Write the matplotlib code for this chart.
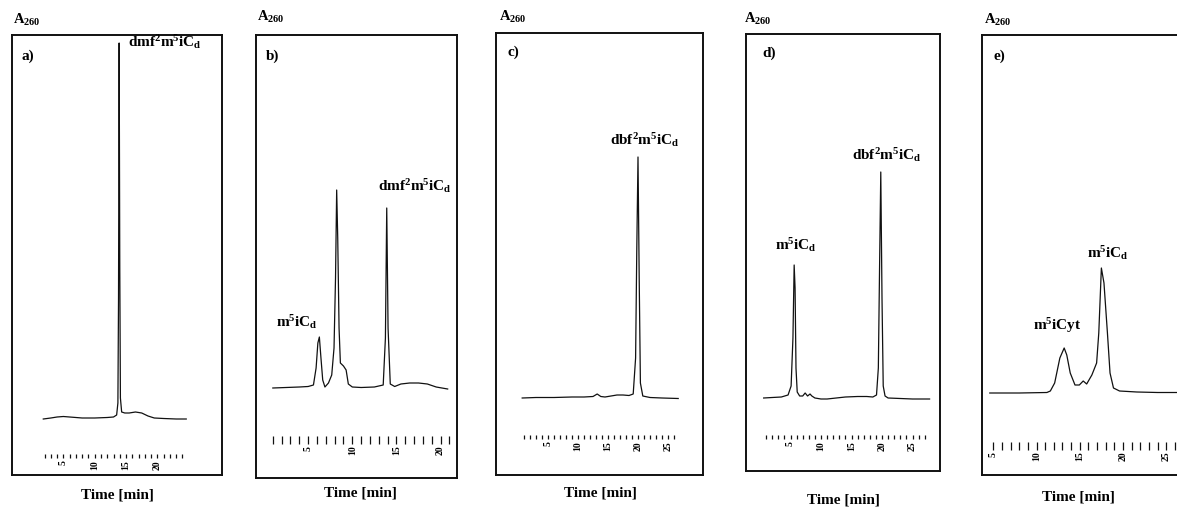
import matplotlib
matplotlib.use("Agg")
import matplotlib.pyplot as plt
from matplotlib.ticker import FixedLocator, NullFormatter

# ---------------- data (retention time in min, absorbance A260 in arbitrary units) ----------------
time_a = [1.8, 3.0, 4.0, 5.0, 6.0, 7.0, 8.0, 10.0, 12.0, 13.0, 13.5, 13.7, 13.8, 13.9, 14.0, 14.1,
          14.3, 14.8, 15.5, 16.5, 17.5, 18.5, 19.5, 21.0, 23.0, 24.6]
abs_a = [-1, 0, 1, 1.5, 1, 0.5, 0, 0, 0.5, 1, 3, 15, 120, 375, 150, 20,
         6, 5, 5, 6, 5, 2, 0, -0.5, -1, -1]

time_b = [1.0, 2.5, 4.0, 5.0, 5.6, 5.9, 6.1, 6.27, 6.45, 6.65, 6.9, 7.3, 7.67, 7.93, 8.1, 8.23,
          8.35, 8.5, 8.65, 9.0, 9.3, 9.55, 10.0, 11.0, 12.5, 13.5, 13.75, 13.9, 14.05, 14.3, 14.8,
          15.5, 16.5, 17.5, 18.5, 19.5, 20.8]
abs_b = [0, 0.5, 1, 1.5, 3, 20, 45, 51, 30, 8, 1, 5, 13, 40, 110, 198,
         150, 60, 25, 22, 18, 4, 1, 0.5, 1, 3, 50, 180, 60, 4, 1.5,
         4, 5, 5, 4, 1, -1]

time_c = [0.7, 3.0, 6.0, 9.0, 11.0, 12.5, 13.2, 13.8, 14.5, 15.5, 16.5, 17.5, 18.5, 19.2, 19.6,
          19.8, 20.0, 20.2, 20.4, 20.8, 22.0, 24.0, 26.7]
abs_c = [0, 0.5, 0.5, 1, 1, 1.5, 4, 1.5, 1, 2, 3, 3, 2.5, 4, 40,
         150, 241, 120, 15, 2, 0.5, 0, -0.5]

time_d = [0.6, 2.0, 3.5, 4.6, 5.1, 5.4, 5.6, 5.75, 5.9, 6.1, 6.5, 7.0, 7.4, 7.8, 8.2, 8.5, 9.0,
          10.0, 11.0, 12.5, 14.0, 16.0, 17.5, 18.5, 19.1, 19.4, 19.6, 19.8, 20.0, 20.2, 20.5,
          21.0, 23.0, 25.0, 27.8]
abs_d = [0, 0.5, 1, 3, 12, 60, 133, 110, 30, 6, 2, 2, 5, 2, 4, 2, 0,
         -1, -1, 0, 1, 1.5, 1.5, 1, 3, 30, 130, 226, 100, 12, 2,
         0, -0.5, -1, -1]

time_e = [4.6, 8.0, 11.2, 11.6, 12.1, 12.7, 13.2, 13.5, 13.9, 14.45, 14.95, 15.4, 15.8, 16.4,
          16.95, 17.2, 17.5, 17.8, 18.2, 18.5, 18.9, 19.6, 21.6, 24.0, 28.0]
abs_e = [0, 0, 0.5, 2, 10, 35, 45, 38, 20, 8, 8, 12, 9, 18,
         30, 60, 125, 110, 60, 20, 5, 2, 1, 0.5, 0.5]

ticks_a = [5, 10, 15, 20]
ticks_b = [5, 10, 15, 20]
ticks_c = [5, 10, 15, 20, 25]
ticks_d = [5, 10, 15, 20, 25]
ticks_e = [5, 10, 15, 20, 25]

minor_a = list(range(2, 25))
minor_b = list(range(1, 22))
minor_c = list(range(1, 27))
minor_d = list(range(1, 28))
minor_e = list(range(5, 28))

letters = ["a)", "b)", "c)", "d)", "e)"]
peak_labels = [
    [r"$\mathrm{dmf}^2\mathrm{m}^5\mathrm{iC}_\mathrm{d}$"],
    [r"$\mathrm{m}^5\mathrm{iC}_\mathrm{d}$", r"$\mathrm{dmf}^2\mathrm{m}^5\mathrm{iC}_\mathrm{d}$"],
    [r"$\mathrm{dbf}^2\mathrm{m}^5\mathrm{iC}_\mathrm{d}$"],
    [r"$\mathrm{m}^5\mathrm{iC}_\mathrm{d}$", r"$\mathrm{dbf}^2\mathrm{m}^5\mathrm{iC}_\mathrm{d}$"],
    [r"$\mathrm{m}^5\mathrm{iCyt}$", r"$\mathrm{m}^5\mathrm{iC}_\mathrm{d}$"],
]

# ---------------- layout (pixel geometry of the reference) ----------------
W, H = 1177, 507
plt.rcParams["font.family"] = ["Liberation Serif", "DejaVu Serif"]
plt.rcParams["font.weight"] = "bold"
plt.rcParams["mathtext.fontset"] = "custom"
plt.rcParams["mathtext.rm"] = "Liberation Serif:bold"
plt.rcParams["mathtext.it"] = "Liberation Serif:bold"
plt.rcParams["mathtext.bf"] = "Liberation Serif:bold"

panels = [
    dict(t=time_a, a=abs_a, ticks=ticks_a, minor=minor_a, box=(12, 222, 35, 475), t0=32, ppm=6.27,
         base=418, ruler=454, tlen=3, A=(13, 20), let=(22, 56), lab=[(128, 42)], time=(117, 495)),
    dict(t=time_b, a=abs_b, ticks=ticks_b, minor=minor_b, box=(256, 457, 35, 478), t0=264, ppm=8.83,
         base=388, ruler=436, tlen=5.5, A=(257, 17), let=(266, 56), lab=[(276, 322), (378, 186)], time=(360, 493)),
    dict(t=time_c, a=abs_c, ticks=ticks_c, minor=minor_c, box=(496, 703, 33, 475), t0=518, ppm=6.0,
         base=398, ruler=435, tlen=3, A=(499, 17), let=(507, 52), lab=[(610, 140)], time=(600, 493)),
    dict(t=time_d, a=abs_d, ticks=ticks_d, minor=minor_d, box=(746, 940, 34, 471), t0=760, ppm=6.1,
         base=398, ruler=435, tlen=3, A=(744, 19), let=(762, 53), lab=[(775, 245), (852, 155)], time=(843, 500)),
    dict(t=time_e, a=abs_e, ticks=ticks_e, minor=minor_e, box=(982, 1195, 35, 475), t0=950, ppm=8.65,
         base=393, ruler=442, tlen=5.5, A=(984, 20), let=(994, 56), lab=[(1033, 326), (1087, 253)], time=(1078, 497)),
]

fig = plt.figure(figsize=(W / 100, H / 100), dpi=100)
fig.patch.set_facecolor("white")


def fx(x):
    return x / W


def fy(y):
    return 1 - y / H


for i, p in enumerate(panels):
    l, r, top, bot = p["box"]
    # frame
    fr = fig.add_axes([fx(l), fy(bot), (r - l) / W, (bot - top) / H])
    fr.set_xticks([])
    fr.set_yticks([])
    for s in fr.spines.values():
        s.set_linewidth(1.4)
        s.set_color("#111111")
    fr.patch.set_alpha(0)
    # inner plotting axes, bottom edge at the tick ruler
    ax = fig.add_axes([fx(l), fy(p["ruler"]), (r - l) / W, (p["ruler"] - top) / H])
    ax.patch.set_alpha(0)
    for s in ax.spines.values():
        s.set_visible(False)
    ax.plot(p["t"], p["a"], color="#111111", lw=0.9, solid_joinstyle="round")
    ax.set_xlim((l - p["t0"]) / p["ppm"], (r - p["t0"]) / p["ppm"])
    ax.set_ylim(p["base"] - p["ruler"], p["base"] - top)
    ax.set_yticks([])
    ax.xaxis.set_major_locator(FixedLocator(p["ticks"]))
    ax.xaxis.set_minor_locator(FixedLocator([m for m in p["minor"] if m not in p["ticks"]]))
    ax.xaxis.set_minor_formatter(NullFormatter())
    ax.set_xticklabels([str(v) for v in p["ticks"]])
    ax.tick_params(axis="x", which="both", direction="out", length=p["tlen"], width=0.9,
                   color="#111111", labelsize=7, labelrotation=90, pad=1.5)
    for lbl in ax.get_xticklabels():
        lbl.set_fontweight("bold")

    fig.text(fx(p["A"][0]), fy(p["A"][1]), r"$\mathrm{A}_{260}$", fontsize=10.5, ha="left", va="center")
    fig.text(fx(p["let"][0]), fy(p["let"][1]), letters[i], fontsize=11, fontweight="bold",
             ha="left", va="center")
    for (x, y), s in zip(p["lab"], peak_labels[i]):
        fig.text(fx(x), fy(y), s, fontsize=11, ha="left", va="center")
    fig.text(fx(p["time"][0]), fy(p["time"][1]), "Time [min]", fontsize=11, fontweight="bold",
             ha="center", va="center")

fig.savefig("out.png", dpi=100, facecolor="white")
